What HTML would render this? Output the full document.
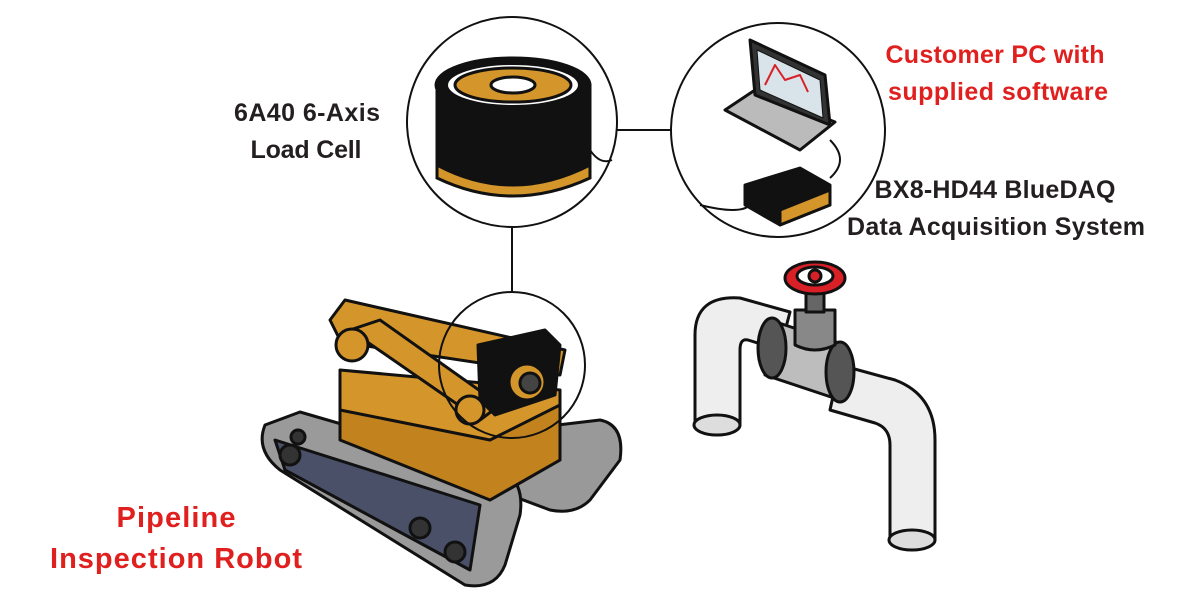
<!DOCTYPE html>
<html><head><meta charset="utf-8"><style>
html,body{margin:0;padding:0;background:#fff;width:1200px;height:600px;overflow:hidden}
svg{display:block}
text{font-family:"Liberation Sans",sans-serif;font-weight:bold;font-size:25px;text-anchor:middle}
</style></head><body>
<svg width="1200" height="600" viewBox="0 0 1200 600" xmlns="http://www.w3.org/2000/svg">
<g stroke="#111" stroke-width="2" fill="none">
<line x1="617" y1="130" x2="671" y2="130"/>
<line x1="512" y1="227" x2="512" y2="293"/>
</g>
<!-- Pipe -->
<g stroke="#111" stroke-width="3" stroke-linejoin="round">
<path d="M695,425 L695,335 Q695,295 740,298 L790,312 L780,350 L748,340 Q740,338 740,350 L740,425 Z" fill="#eeeeee"/>
<ellipse cx="717" cy="425" rx="23" ry="10" fill="#ddd"/>
<path d="M840,365 L895,380 Q935,395 935,440 L935,540 L890,540 L890,445 Q890,428 875,423 L830,410 Z" fill="#eeeeee"/>
<ellipse cx="912" cy="540" rx="23" ry="10" fill="#ddd"/>
<path d="M770,320 L845,345 L840,400 L765,375 Z" fill="#bdbdbd"/>
<ellipse cx="772" cy="348" rx="14" ry="30" fill="#555"/>
<ellipse cx="840" cy="372" rx="14" ry="30" fill="#555"/>
<path d="M795,310 L835,310 L835,345 Q815,355 795,345 Z" fill="#888"/>
<rect x="806" y="288" width="18" height="24" fill="#666"/>
<ellipse cx="815" cy="278" rx="30" ry="16" fill="#d92027"/>
<ellipse cx="815" cy="276" rx="18" ry="9" fill="#fff"/>
<circle cx="815" cy="276" r="6" fill="#d92027"/>
</g>
<!-- Robot -->
<g stroke="#111" stroke-width="3" stroke-linejoin="round">
<path d="M430,440 L600,420 Q625,425 620,460 L590,500 Q575,515 550,510 L470,480 Z" fill="#999"/>
<path d="M265,425 L300,412 L500,470 Q525,480 520,515 L505,565 Q495,590 465,585 L280,470 Q255,450 265,425 Z" fill="#9a9a9a"/>
<path d="M275,440 L480,505 L470,570 L285,470 Z" fill="#4a5068"/>
<path d="M340,370 L560,390 L560,460 L490,500 L340,430 Z" fill="#d4952a"/>
<path d="M340,410 L490,440 L560,405 L560,460 L490,500 L340,440 Z" fill="#c2831f"/>
<path d="M330,320 L345,300 L565,350 L560,375 L360,345 L350,360 Z" fill="#d4952a"/>
<path d="M350,330 L480,420 L500,405 L380,320 Z" fill="#d4952a"/>
<circle cx="352" cy="345" r="16" fill="#d4952a"/>
<circle cx="470" cy="410" r="14" fill="#d4952a"/>
<path d="M478,345 L545,330 L560,345 L555,395 L495,415 L480,400 Z" fill="#111"/>
<circle cx="527" cy="382" r="18" fill="#d4952a"/>
<circle cx="530" cy="383" r="10" fill="#444"/>
<g fill="#333"><circle cx="290" cy="455" r="10"/><circle cx="420" cy="528" r="10"/><circle cx="455" cy="552" r="10"/><circle cx="298" cy="437" r="7"/></g>
</g>
<!-- circles -->
<g stroke="#111" stroke-width="2" fill="#fff">
<circle cx="512" cy="122" r="105"/>
<circle cx="778" cy="130" r="107"/>
</g>
<circle cx="512" cy="365" r="73" stroke="#111" stroke-width="2" fill="none"/>
<!-- load cell -->
<g stroke="#111" stroke-width="3">
<path d="M437,85 L437,175 Q512,210 590,175 L590,85 Z" fill="#111"/>
<path d="M437,165 Q512,205 590,165 L590,178 Q512,214 437,178 Z" fill="#d4952a"/>
<ellipse cx="513" cy="85" rx="77" ry="27" fill="#111"/>
<ellipse cx="513" cy="85" rx="66" ry="21" fill="#fff" stroke-width="2"/>
<ellipse cx="513" cy="85" rx="58" ry="17" fill="#d4952a"/>
<ellipse cx="513" cy="85" rx="22" ry="8" fill="#fff"/>
</g>
<!-- laptop -->
<g stroke="#111" stroke-width="3" stroke-linejoin="round">
<path d="M725,110 L800,150 L835,122 L755,90 Z" fill="#bbb"/>
<path d="M750,40 L825,75 L830,125 L755,95 Z" fill="#333"/>
<path d="M757,50 L820,80 L823,118 L760,90 Z" fill="#d8e4ea" stroke-width="1"/>
<polyline points="765,85 775,65 785,80 800,75 808,92" stroke="#d92027" stroke-width="2" fill="none"/>
<path d="M745,185 L800,168 L830,185 L830,205 L780,225 L745,205 Z" fill="#111"/>
<path d="M780,210 L830,190 L830,205 L780,225 Z" fill="#d4952a"/>
<path d="M830,140 Q850,160 830,178" fill="none" stroke-width="2"/>
<path d="M700,205 Q740,215 750,205" fill="none" stroke-width="2"/>
<path d="M590,150 Q600,165 612,160" fill="none" stroke-width="2"/>
</g>
<!-- labels -->
<g fill="#231f20">
<text x="307" y="121" textLength="146">6A40 6-Axis</text>
<text x="306" y="158" textLength="111">Load Cell</text>
<text x="995" y="198" textLength="241">BX8-HD44 BlueDAQ</text>
<text x="996" y="235" textLength="298">Data Acquisition System</text>
</g>
<g fill="#e0201f">
<text x="995" y="63" textLength="219">Customer PC with</text>
<text x="998" y="100" textLength="220">supplied software</text>
<text x="176" y="527" style="font-size:29px" textLength="119">Pipeline</text>
<text x="176" y="568" style="font-size:29px" textLength="252">Inspection Robot</text>
</g>
</svg>
</body></html>
